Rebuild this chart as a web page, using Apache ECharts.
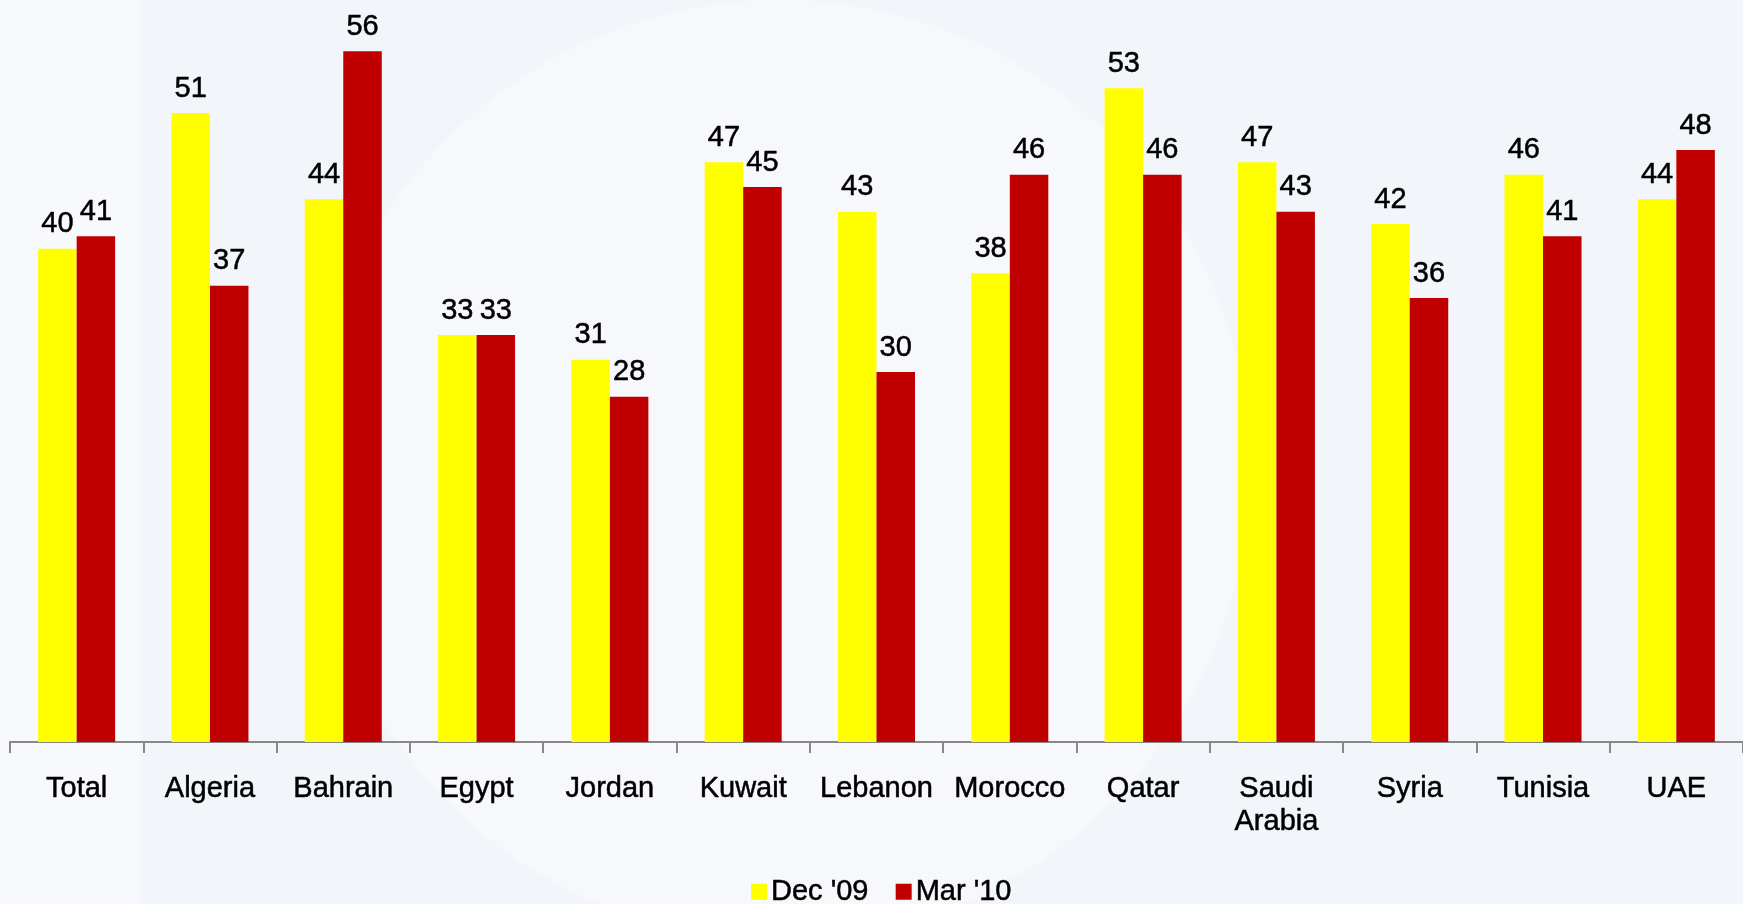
<!DOCTYPE html>
<html>
<head>
<meta charset="utf-8">
<script src="https://cdn.jsdelivr.net/npm/echarts@6/dist/echarts.min.js"></script>
<style>
  html, body { margin: 0; padding: 0; background: #f3f5fa; }
  #chart { width: 1743px; height: 904px; }
</style>
</head>
<body>
<div id="chart"></div>
<script>
// Countries shown along the axis
const categories = ['Total', 'Algeria', 'Bahrain', 'Egypt', 'Jordan', 'Kuwait', 'Lebanon',
  'Morocco', 'Qatar', 'Saudi\nArabia', 'Syria', 'Tunisia', 'UAE'];
// Survey waves
const seriesNames = ["Dec '09", "Mar '10"];
const dec09 = [40, 51, 44, 33, 31, 47, 43, 38, 53, 47, 42, 46, 44];
const mar10 = [41, 37, 56, 33, 28, 45, 30, 46, 46, 43, 36, 41, 48];

const FONT = '"Liberation Sans", Arial, sans-serif';
const chart = echarts.init(document.getElementById('chart'), null, { renderer: 'canvas' });

const textBase = {
  color: '#000',
  fontFamily: FONT,
  fontSize: 29,
  textBorderColor: '#000',
  textBorderWidth: 0.5
};

const labelStyle = Object.assign({
  show: true,
  position: 'top',
  distance: 10
}, textBase);

chart.setOption({
  backgroundColor: '#f2f5fa',
  animation: false,
  graphic: [
    { type: 'rect', silent: true, z: -10, shape: { x: 0, y: 0, width: 140, height: 904 }, style: { fill: '#f8f9fc' } },
    { type: 'circle', silent: true, z: -10, shape: { cx: 780, cy: 470, r: 470 }, style: { fill: '#f7f8fc' } }
  ],
  legend: {
    data: seriesNames,
    left: 751,
    top: 877,
    padding: 0,
    itemWidth: 16,
    itemHeight: 16,
    itemGap: 27,
    icon: 'rect',
    textStyle: Object.assign({}, textBase, { padding: [0, 0, 0, -1] })
  },
  grid: { left: 10, right: 0, top: 2, bottom: 162, containLabel: false },
  xAxis: {
    type: 'category',
    data: categories,
    axisLine: { show: true, lineStyle: { color: '#888', width: 2 } },
    axisTick: { show: true, length: 11, alignWithLabel: false, lineStyle: { color: '#888', width: 2 } },
    axisLabel: Object.assign({
      show: true,
      interval: 0,
      margin: 30,
      lineHeight: 33
    }, textBase)
  },
  yAxis: {
    type: 'value',
    min: 0,
    max: 60,
    show: false,
    splitLine: { show: false }
  },
  series: [
    {
      name: seriesNames[0],
      type: 'bar',
      data: dec09,
      barWidth: 38.5,
      barGap: '0%',
      itemStyle: { color: '#ffff00' },
      label: labelStyle
    },
    {
      name: seriesNames[1],
      type: 'bar',
      data: mar10,
      barWidth: 38.5,
      barGap: '0%',
      itemStyle: { color: '#c00000' },
      label: labelStyle
    }
  ]
});
</script>
</body>
</html>
